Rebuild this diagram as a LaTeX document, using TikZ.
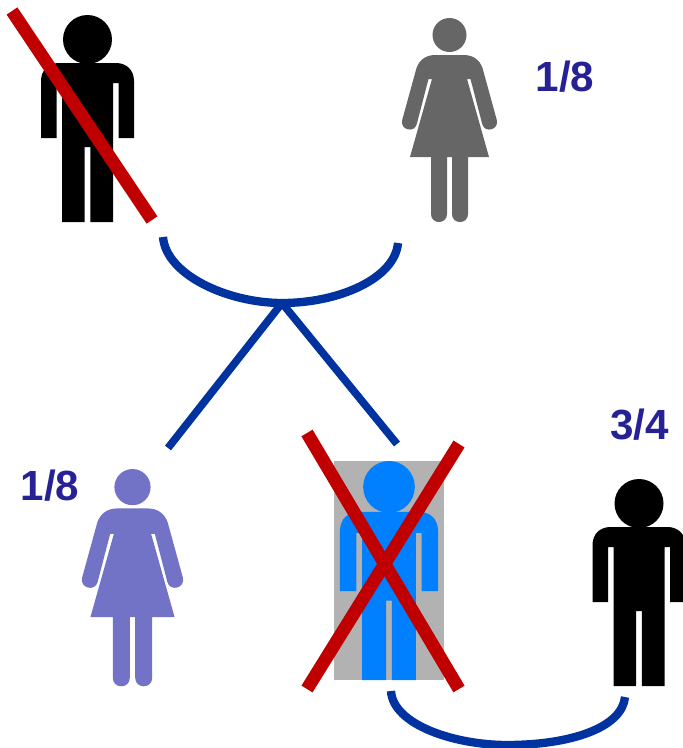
\documentclass[tikz,border=0pt]{standalone}
\usepackage{fontspec}
\setmainfont{Liberation Sans}
\usepackage{xcolor}
\definecolor{bodygray}{RGB}{102,102,102}
\definecolor{bodypurple}{RGB}{114,114,198}
\definecolor{bodyblue}{RGB}{0,128,255}
\definecolor{boxgray}{RGB}{178,178,178}
\definecolor{linered}{RGB}{192,0,0}
\definecolor{lineblue}{RGB}{0,51,160}
\definecolor{textblue}{RGB}{38,34,150}
\tikzset{
  man/.pic={
    \path[pic actions] (0,24.5) circle [radius=24.5];
    \path[pic actions] (-46.5,66) .. controls (-46.5,55) and (-39,48) .. (-28.5,48) -- (28.5,48)
      .. controls (39,48) and (46.5,55) .. (46.5,66) -- (46.5,123) -- (31,123) -- (31,68) -- (25.5,68)
      -- (25.5,207) -- (2.8,207) -- (2.8,132) -- (-2.8,132) -- (-2.8,207) -- (-25.5,207)
      -- (-25.5,68) -- (-31,68) -- (-31,123) -- (-46.5,123) -- cycle;
  },
  woman/.pic={
    \path[pic actions] (0,17) circle [radius=17];
    \path[pic actions] (-14,37) -- (14,37) .. controls (24,37) and (30,42) .. (33,50) -- (47.3,102)
      .. controls (49.8,111.7) and (35.2,115.7) .. (32.7,106) -- (21,61) -- (17.5,61) -- (39.5,139)
      -- (18.5,139) -- (18.5,196) .. controls (18.5,206.7) and (2.5,206.7) .. (2.5,196) -- (2.5,139)
      -- (-2.5,139) -- (-2.5,196) .. controls (-2.5,206.7) and (-18.5,206.7) .. (-18.5,196) -- (-18.5,139)
      -- (-39.5,139) -- (-17.5,61) -- (-21,61) -- (-32.7,106) .. controls (-35.2,115.7) and (-49.8,111.7) .. (-47.3,102)
      -- (-33,50) .. controls (-30,42) and (-24,37) .. (-14,37) -- cycle;
  }
}
\begin{document}
\begin{tikzpicture}[
  x=0.03cm, y=-0.03cm,
  strike/.style={linered, line width=0.39cm},
  kin/.style={lineblue, line width=0.25cm},
  share/.style={textblue, font=\fontsize{36}{38}\bfseries\selectfont, inner sep=0pt}
]
\useasboundingbox (0,0) rectangle (683,748);

\fill[boxgray] (334,461) rectangle (444,680);

\pic[fill=black] (father) at (87.5,15) {man};
\pic[fill=bodygray] (mother) at (449.5,18) {woman};
\pic[fill=bodypurple, scale=1.065] (daughter) at (132.5,469) {woman};
\pic[fill=bodyblue, xscale=1.054, yscale=1.058] (son) at (389,461) {man};
\pic[fill=black] (spouse) at (639,479) {man};

\node[share] (sharemother) at (565,77) {1/8};
\node[share] (sharedaughter) at (50,486) {1/8};
\node[share] (sharespouse) at (639.5,425) {3/4};

\coordinate (fatherend) at (163,237);
\coordinate (motherend) at (398,243);
\coordinate (parents) at (282,303);
\coordinate (daughterend) at (168,448);
\coordinate (sonend) at (397,444);
\coordinate (sonfoot) at (391,691);
\coordinate (spousefoot) at (625,697);

\draw[kin] (fatherend) .. controls (166,275) and (228,303) .. (parents)
  .. controls (340,303) and (395,278) .. (motherend);
\foreach \a in {daughterend,sonend}
  \draw[kin, line width=0.23cm] (parents) -- (\a);
\draw[kin] (sonfoot) .. controls (393,725) and (455,745) .. (507,745)
  .. controls (570,745) and (622,728) .. (spousefoot);

\draw[strike] (12,11) -- (152,220);
\draw[strike] (307,433) -- (459,689);
\draw[strike] (459,444) -- (307,689);
\end{tikzpicture}
\end{document}
